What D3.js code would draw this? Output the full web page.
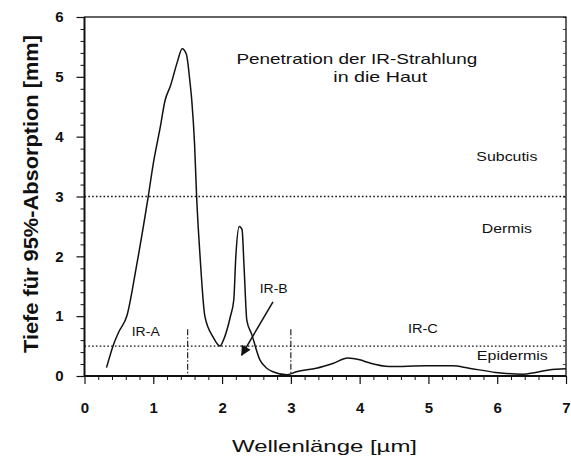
<!DOCTYPE html>
<html><head><meta charset="utf-8">
<script src="https://cdn.jsdelivr.net/npm/d3@7"></script>
<style>
html,body{margin:0;padding:0;background:#fff;}
svg text{font-family:"Liberation Sans",Arial,sans-serif;fill:#111;}
</style></head>
<body><svg id="c" width="571" height="457"></svg>
<script>
// ---- data ----
const wavelength = [0.32,0.42,0.5,0.62,0.75,0.92,1.0,1.1,1.17,1.25,1.35,1.42,1.48,1.53,1.56,1.6,1.63,1.68,1.75,1.87,1.97,2.02,2.12,2.17,2.2,2.25,2.29,2.32,2.36,2.43,2.55,2.65,2.74,2.94,3.08,3.37,3.61,3.83,4.0,4.14,4.43,4.97,5.35,5.59,5.98,6.37,6.56,6.75,7.0];
const depth      = [0.14,0.52,0.74,1.02,1.8,2.95,3.55,4.15,4.6,4.85,5.25,5.47,5.38,4.95,4.6,3.88,3.0,2.0,1.0,0.65,0.5,0.6,0.99,1.27,2.0,2.5,2.45,1.82,0.93,0.7,0.27,0.13,0.07,0.02,0.07,0.13,0.21,0.3,0.27,0.22,0.16,0.17,0.17,0.13,0.06,0.03,0.06,0.1,0.12];
const xTicks = [0,1,2,3,4,5,6,7];
const yTicks = [0,1,2,3,4,5,6];
const layerBounds = [3, 0.5];          // Subcutis/Dermis, Dermis/Epidermis
const bandBounds = [1.5, 3];           // IR-A/IR-B, IR-B/IR-C
const titleLines = ["Penetration der IR-Strahlung", "in die Haut"];
const xLabel = "Wellenlänge [µm]";
const yLabel = "Tiefe für 95%-Absorption [mm]";

// ---- drawing ----
const svg = d3.select("#c");
const L = 84.5, R = 566, T = 17, B = 376;
const x = d3.scaleLinear().domain([0,7]).range([L,R]);
const y = d3.scaleLinear().domain([0,6]).range([B,T]);
const ink = "#111";
const wide = "DejaVu Sans, Verdana, sans-serif";

const xMinor = d3.range(0,7.001,0.2).filter(v=>Math.abs(v-Math.round(v))>1e-6);
const yMinor = d3.range(0,6.001,0.2).filter(v=>Math.abs(v-Math.round(v))>1e-6);

const gx = svg.append("g").attr("transform",`translate(0,${B})`)
  .call(d3.axisBottom(x).tickValues(xTicks).tickSize(8).tickFormat(d3.format("d")).tickPadding(18));
gx.select(".domain").remove();
gx.selectAll("line").attr("stroke",ink).attr("stroke-width",1.2);
gx.selectAll("text").attr("font-size",15).attr("font-weight","bold").attr("fill",ink).attr("font-family","Liberation Sans, Arial, sans-serif");
svg.append("g").attr("transform",`translate(0,${B})`)
  .call(d3.axisBottom(x).tickValues(xMinor).tickSize(4).tickFormat(""))
  .call(g=>g.select(".domain").remove())
  .selectAll("line").attr("stroke",ink).attr("stroke-width",1);

const gy = svg.append("g").attr("transform",`translate(${L},0)`)
  .call(d3.axisLeft(y).tickValues(yTicks).tickSize(8).tickFormat(d3.format("d")).tickPadding(13));
gy.select(".domain").remove();
gy.selectAll("line").attr("stroke",ink).attr("stroke-width",1.2);
gy.selectAll("text").attr("font-size",15).attr("font-weight","bold").attr("fill",ink).attr("font-family","Liberation Sans, Arial, sans-serif");
svg.append("g").attr("transform",`translate(${L},0)`)
  .call(d3.axisLeft(y).tickValues(yMinor).tickSize(4).tickFormat(""))
  .call(g=>g.select(".domain").remove())
  .selectAll("line").attr("stroke",ink).attr("stroke-width",1);
svg.append("g").attr("transform",`translate(${R},0)`)
  .call(d3.axisLeft(y).tickValues(yMinor.concat(yTicks)).tickSize(3).tickFormat(""))
  .call(g=>g.select(".domain").remove())
  .selectAll("line").attr("stroke",ink).attr("stroke-width",0.8);

// frame
svg.append("rect").attr("x",L).attr("y",T).attr("width",R-L).attr("height",B-T)
  .attr("fill","none").attr("stroke",ink).attr("stroke-width",1.3);
svg.append("line").attr("x1",L).attr("x2",R).attr("y1",B).attr("y2",B).attr("stroke",ink).attr("stroke-width",2);
svg.append("line").attr("x1",L).attr("x2",L).attr("y1",T).attr("y2",B).attr("stroke",ink).attr("stroke-width",1.8);

// layer boundaries (dotted)
svg.selectAll(".layer").data(layerBounds).enter().append("line")
  .attr("x1",x(0)).attr("x2",x(7)).attr("y1",d=>y(d)).attr("y2",d=>y(d))
  .attr("stroke",ink).attr("stroke-width",1.4).attr("stroke-dasharray","1.6,2.2");

// band boundaries (dashed vertical)
svg.selectAll(".band").data(bandBounds).enter().append("line")
  .attr("x1",d=>x(d)).attr("x2",d=>x(d)).attr("y1",y(0.78)).attr("y2",y(0))
  .attr("stroke",ink).attr("stroke-width",1.1).attr("stroke-dasharray","6,2,1.5,2");

// curve
const pts = wavelength.map((w,i)=>[w,depth[i]]);
svg.append("path").datum(pts)
  .attr("d", d3.line().x(d=>x(d[0])).y(d=>y(d[1])).curve(d3.curveMonotoneX))
  .attr("fill","none").attr("stroke",ink).attr("stroke-width",1.5);

// text annotations
const note = (t,xv,yv,size,len)=>svg.append("text").attr("x",x(xv)).attr("y",y(yv))
  .attr("text-anchor","middle").attr("font-family",wide).attr("font-size",size)
  .attr("textLength",len).attr("lengthAdjust","spacingAndGlyphs")
  .attr("dominant-baseline","middle").text(t);
note("IR-A",0.89,0.72,12.5,28);
note("IR-B",2.75,1.45,12.5,28);
note("IR-C",4.92,0.77,12.5,30);
note("Epidermis",6.22,0.32,13,71);
note("Dermis",6.14,2.44,13,50);
note("Subcutis",6.14,3.65,13,61);
note(titleLines[0],3.96,5.28,14.5,241);
note(titleLines[1],4.30,4.98,14.5,94);

// arrow
svg.append("defs").append("marker").attr("id","ah").attr("viewBox","0 0 10 10")
  .attr("refX",9).attr("refY",5).attr("markerWidth",12).attr("markerHeight",10)
  .attr("markerUnits","userSpaceOnUse").attr("orient","auto")
  .append("path").attr("d","M0,0 L10,5 L0,10 z").attr("fill",ink);
svg.append("line").attr("x1",x(2.74)).attr("y1",y(1.24)).attr("x2",x(2.285)).attr("y2",y(0.35))
  .attr("stroke",ink).attr("stroke-width",1.5).attr("marker-end","url(#ah)");

// axis titles
svg.append("text").attr("x",324.5).attr("y",448).attr("text-anchor","middle")
  .attr("font-family",wide).attr("font-size",17).attr("textLength",185).attr("lengthAdjust","spacingAndGlyphs")
  .attr("dominant-baseline","middle").text(xLabel);
svg.append("text").attr("transform",`translate(33,194) rotate(-90)`).attr("text-anchor","middle")
  .attr("font-size",20).attr("font-weight","bold").attr("textLength",318).attr("lengthAdjust","spacingAndGlyphs")
  .attr("dominant-baseline","middle").text(yLabel);
</script></body></html>
